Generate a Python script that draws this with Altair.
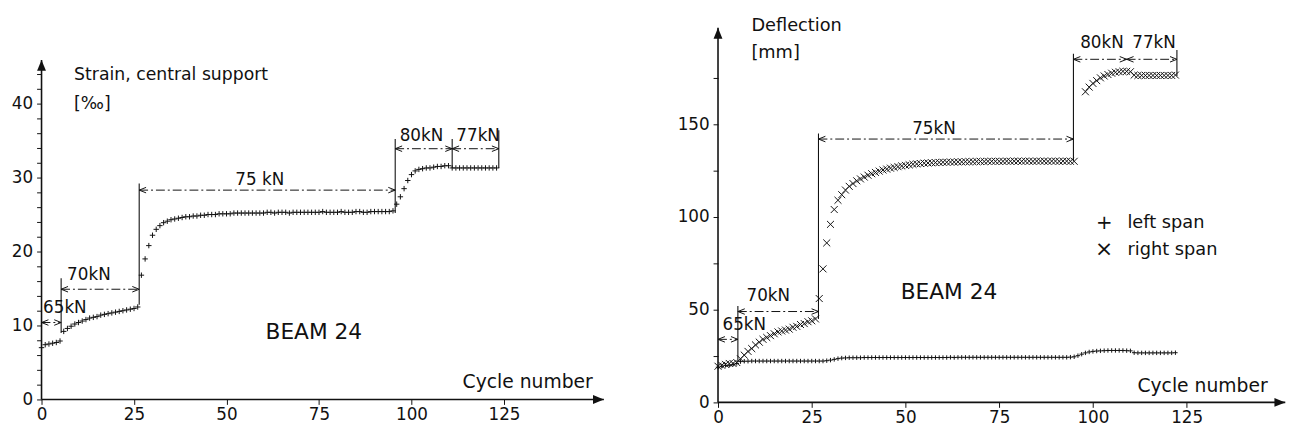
import altair as alt
import pandas as pd

FONT = "DejaVu Sans"
INK = "#111111"

# ---------------- data: left panel (strain at central support) ----------------
strain_cycle = list(range(0, 124))
strain_value = [
    7.0, 7.4, 7.5, 7.6, 7.7, 7.9, 9.2, 9.6, 9.9, 10.2,
    10.4, 10.6, 10.8, 11.0, 11.1, 11.2, 11.4, 11.5, 11.6, 11.7,
    11.8, 11.9, 12.0, 12.1, 12.2, 12.3, 12.5, 16.8, 19.0, 20.8,
    22.2, 23.0, 23.5, 23.9, 24.1, 24.3, 24.4, 24.5, 24.6, 24.7,
    24.7, 24.8, 24.8, 24.9, 24.9, 25.0, 25.0, 25.0, 25.1, 25.1,
    25.1, 25.1, 25.2, 25.2, 25.2, 25.2, 25.2, 25.2, 25.2, 25.2,
    25.2, 25.3, 25.3, 25.2, 25.3, 25.3, 25.3, 25.2, 25.3, 25.3,
    25.3, 25.3, 25.3, 25.3, 25.3, 25.3, 25.4, 25.3, 25.3, 25.3,
    25.3, 25.4, 25.3, 25.3, 25.3, 25.4, 25.4, 25.3, 25.3, 25.4,
    25.4, 25.4, 25.4, 25.4, 25.4, 25.5, 26.4, 27.4, 28.5, 29.6,
    30.4, 30.9, 31.1, 31.2, 31.3, 31.3, 31.4, 31.5, 31.5, 31.6,
    31.6, 31.3, 31.3, 31.3, 31.3, 31.3, 31.3, 31.3, 31.3, 31.3,
    31.3, 31.3, 31.3, 31.3,
]

# ---------------- data: right panel (deflection) ----------------
right_span_cycle = list(range(0, 96)) + list(range(98, 123))
right_span_value = [
    19.5, 20.0, 20.5, 21.0, 21.0, 21.5, 23.5, 25.5, 27.5, 29.0,
    31.0, 32.5, 34.0, 35.0, 36.0, 37.0, 38.0, 38.5, 39.0, 39.5,
    40.5, 41.0, 42.0, 42.5, 43.5, 44.0, 45.0, 56.0, 72.0, 86.0,
    96.0, 104.0, 109.0, 112.0, 114.5, 116.5, 118.0, 119.5, 120.5, 121.5,
    122.5, 123.3, 124.0, 124.7, 125.3, 125.8, 126.3, 126.7, 127.1, 127.5,
    127.8, 128.1, 128.4, 128.6, 128.8, 129.0, 129.1, 129.2, 129.3, 129.4,
    129.5, 129.5, 129.6, 129.6, 129.7, 129.7, 129.8, 129.8, 129.8, 129.9,
    129.9, 129.9, 130.0, 130.0, 130.0, 130.0, 130.0, 130.1, 130.0, 130.1,
    130.1, 130.0, 130.1, 130.1, 130.0, 130.1, 130.1, 130.1, 130.0, 130.1,
    130.1, 130.0, 130.1, 130.1, 130.0, 130.0,
    167.5, 170.0,
    172.0, 173.5, 175.0, 176.0, 176.8, 177.5, 178.0, 178.3, 178.5, 178.5,
    178.3, 176.5, 176.3, 176.3, 176.3, 176.3, 176.3, 176.3, 176.3, 176.3,
    176.3, 176.3, 176.5,
]
left_span_cycle = list(range(0, 123))
left_span_value = [
    19.0, 19.5, 20.0, 20.0, 20.5, 21.0, 22.0, 22.2, 22.2, 22.3,
    22.3, 22.3, 22.3, 22.3, 22.3, 22.3, 22.3, 22.3, 22.3, 22.3,
    22.3, 22.3, 22.3, 22.3, 22.3, 22.3, 22.3, 22.3, 22.3, 22.5,
    22.8, 23.2, 23.6, 23.9, 24.0, 24.1, 24.1, 24.1, 24.1, 24.2,
    24.2, 24.2, 24.2, 24.2, 24.2, 24.2, 24.2, 24.2, 24.2, 24.2,
    24.2, 24.2, 24.2, 24.2, 24.2, 24.2, 24.2, 24.2, 24.2, 24.2,
    24.2, 24.2, 24.3, 24.2, 24.3, 24.3, 24.3, 24.3, 24.3, 24.3,
    24.3, 24.3, 24.3, 24.3, 24.3, 24.3, 24.3, 24.3, 24.3, 24.3,
    24.3, 24.3, 24.3, 24.3, 24.3, 24.3, 24.3, 24.3, 24.3, 24.3,
    24.3, 24.3, 24.3, 24.3, 24.4, 24.6, 25.2, 26.0, 26.7, 27.2,
    27.5, 27.7, 27.8, 27.9, 28.0, 28.0, 28.0, 28.0, 28.0, 27.9,
    27.8, 26.8, 26.7, 26.7, 26.7, 26.7, 26.7, 26.7, 26.7, 26.7,
    26.7, 26.7, 26.8,
]

# ---------------- load-step dimension annotations ----------------
strain_load_labels = ["65kN", "70kN", "75 kN", "80kN", "77kN"]
strain_step_from = [0, 5.3, 26.4, 95.6, 111.0]
strain_step_to = [5.3, 26.4, 95.6, 111.0, 123.6]
strain_step_level = [10.4, 14.9, 28.3, 33.9, 33.9]
strain_label_x = [6.3, 12.8, 59.0, 102.7, 118.0]
strain_label_y = [12.3, 16.8, 29.7, 35.6, 35.6]
strain_ext_x = [5.3, 26.4, 95.6, 111.0, 123.6]
strain_ext_lo = [9.0, 12.8, 25.2, 31.3, 31.3]
strain_ext_hi = [16.4, 29.2, 35.2, 35.2, 36.4]

defl_load_labels = ["65kN", "70kN", "75kN", "80kN", "77kN"]
defl_step_from = [0, 5.3, 26.8, 94.8, 109.0]
defl_step_to = [5.3, 26.8, 94.8, 109.0, 122.4]
defl_step_level = [34.0, 49.0, 142.0, 185.0, 185.0]
defl_label_x = [7.0, 13.4, 57.6, 102.4, 116.3]
defl_label_y = [41.5, 57.4, 147.5, 193.5, 193.5]
defl_ext_x = [5.3, 26.8, 94.8, 122.4]
defl_ext_lo = [22.0, 45.0, 130.0, 176.0]
defl_ext_hi = [52.0, 145.0, 188.0, 190.0]

# ---------------- axes / ticks ----------------
x_ticks = [0, 25, 50, 75, 100, 125]
strain_y_ticks = list(range(0, 46, 2))
strain_y_labels = [0, 10, 20, 30, 40]
defl_y_ticks = [0, 25, 50, 75, 100, 125, 150, 175]
defl_y_labels = [0, 50, 100, 150]

strain_x_end, strain_y_end = 152.0, 45.9
defl_x_end, defl_y_end = 151.3, 202.0

# ---------------- shapes ----------------
PLUS = "M-1,0L1,0M0,-1L0,1"
CROSS = "M-1,-1L1,1M-1,1L1,-1"
HEAD_L = "M0,0L2,-0.8M0,0L2,0.8"
HEAD_R = "M0,0L-2,-0.8M0,0L-2,0.8"
TRI_UP = "M0,0L-0.9,2.2L0.9,2.2Z"
TRI_RIGHT = "M0,0L-2.2,-0.9L-2.2,0.9Z"


def panel(xs, ys, width, height, y_ticks, y_labels, series, steps, exts, texts, axis_end):
    x_end, y_end = axis_end
    label_list = "[" + ",".join(str(v) for v in y_labels) + "]"
    x_axis = alt.Axis(values=x_ticks, domain=False, grid=False, title=None,
                      labelFont=FONT, labelFontSize=17, labelColor=INK,
                      tickColor=INK, tickSize=5, labelPadding=2,
                      labelFlush=False, labelOverlap=False)
    y_axis = alt.Axis(values=y_ticks, domain=False, grid=False, title=None,
                      labelFont=FONT, labelFontSize=17, labelColor=INK,
                      tickColor=INK, tickSize=5, labelPadding=4,
                      labelFlush=False, labelOverlap=False,
                      labelExpr=f"indexof({label_list}, datum.value) >= 0 ? datum.label : ''")
    X = lambda f: alt.X(f, type="quantitative", scale=xs, axis=x_axis)
    Y = lambda f: alt.Y(f, type="quantitative", scale=ys, axis=y_axis)

    layers = []
    # axis lines with arrow heads
    ax = pd.DataFrame({"x0": [0.0, 0.0], "x1": [x_end, 0.0], "y0": [0.0, 0.0], "y1": [0.0, y_end]})
    layers.append(alt.Chart(ax).mark_rule(color=INK, strokeWidth=1.6).encode(
        x=X("x0"), x2="x1", y=Y("y0"), y2="y1"))
    layers.append(alt.Chart(pd.DataFrame({"x": [x_end], "y": [0.0]})).mark_point(
        shape=TRI_RIGHT, size=100, filled=True, color=INK, opacity=1).encode(x=X("x"), y=Y("y")))
    layers.append(alt.Chart(pd.DataFrame({"x": [0.0], "y": [y_end]})).mark_point(
        shape=TRI_UP, size=100, filled=True, color=INK, opacity=1).encode(x=X("x"), y=Y("y")))

    # dimension lines
    sf, st, sl, lab, lx, ly = steps
    dim = pd.DataFrame({"a": sf, "b": st, "y": sl})
    layers.append(alt.Chart(dim).mark_rule(color=INK, strokeWidth=1, strokeDash=[9, 3, 2, 3]).encode(
        x=X("a"), x2="b", y=Y("y")))
    layers.append(alt.Chart(dim).mark_point(shape=HEAD_L, size=49, filled=False, color=INK,
                                            strokeWidth=1, opacity=1).encode(x=X("a"), y=Y("y")))
    layers.append(alt.Chart(dim).mark_point(shape=HEAD_R, size=49, filled=False, color=INK,
                                            strokeWidth=1, opacity=1).encode(x=X("b"), y=Y("y")))
    ex, elo, ehi = exts
    layers.append(alt.Chart(pd.DataFrame({"x": ex, "lo": elo, "hi": ehi})).mark_rule(
        color=INK, strokeWidth=1.1).encode(x=X("x"), y=Y("lo"), y2="hi"))
    layers.append(alt.Chart(pd.DataFrame({"x": lx, "y": ly, "t": lab})).mark_text(
        font=FONT, fontSize=17, color=INK, align="center", baseline="middle").encode(
        x=X("x"), y=Y("y"), text="t:N"))

    # measured series
    for cyc, val, shape, size in series:
        layers.append(alt.Chart(pd.DataFrame({"c": cyc, "v": val})).mark_point(
            shape=shape, size=size, filled=False, color=INK, strokeWidth=1, opacity=1).encode(
            x=X("c"), y=Y("v")))

    # free texts
    for tx, ty, txt, fs, al in texts:
        layers.append(alt.Chart(pd.DataFrame({"x": [tx], "y": [ty], "t": [txt]})).mark_text(
            font=FONT, fontSize=fs, color=INK, align=al, baseline="middle").encode(
            x=X("x"), y=Y("y"), text="t:N"))

    return alt.layer(*layers).properties(width=width, height=height)


left = panel(
    alt.Scale(domain=[0, 153], nice=False, zero=False),
    alt.Scale(domain=[0, 52.13], nice=False, zero=False),
    574, 391, strain_y_ticks, strain_y_labels,
    [(strain_cycle, strain_value, PLUS, 30)],
    (strain_step_from, strain_step_to, strain_step_level, strain_load_labels, strain_label_x, strain_label_y),
    (strain_ext_x, strain_ext_lo, strain_ext_hi),
    [
        (8.8, 43.9, "Strain, central support", 17.5, "left"),
        (8.8, 39.9, "[‰]", 17.5, "left"),
        (73.6, 9.1, "BEAM 24", 22, "center"),
        (149.0, 2.4, "Cycle number", 19, "right"),
    ],
    (strain_x_end, strain_y_end),
)

right = panel(
    alt.Scale(domain=[0, 151.5], nice=False, zero=False),
    alt.Scale(domain=[0, 209.5], nice=False, zero=False),
    576, 394, defl_y_ticks, defl_y_labels,
    [(left_span_cycle, left_span_value, PLUS, 20),
     (right_span_cycle, right_span_value, CROSS, 50)],
    (defl_step_from, defl_step_to, defl_step_level, defl_load_labels, defl_label_x, defl_label_y),
    (defl_ext_x, defl_ext_lo, defl_ext_hi),
    [
        (8.9, 203.0, "Deflection", 18, "left"),
        (8.9, 188.5, "[mm]", 18, "left"),
        (61.6, 59.5, "BEAM 24", 22, "center"),
        (146.6, 9.0, "Cycle number", 19, "right"),
        (103.0, 96.8, "+", 20, "center"),
        (103.0, 82.4, "×", 22, "center"),
        (109.2, 96.8, "left span", 18, "left"),
        (109.2, 82.4, "right span", 18, "left"),
    ],
    (defl_x_end, defl_y_end),
)

chart = alt.hconcat(left, right, spacing=70).properties(
    padding={"left": 3, "top": 3, "right": 0, "bottom": 0},
    background="white",
).configure_view(stroke=None)

chart.save("out.html", embed_options={"renderer": "svg", "actions": False})
